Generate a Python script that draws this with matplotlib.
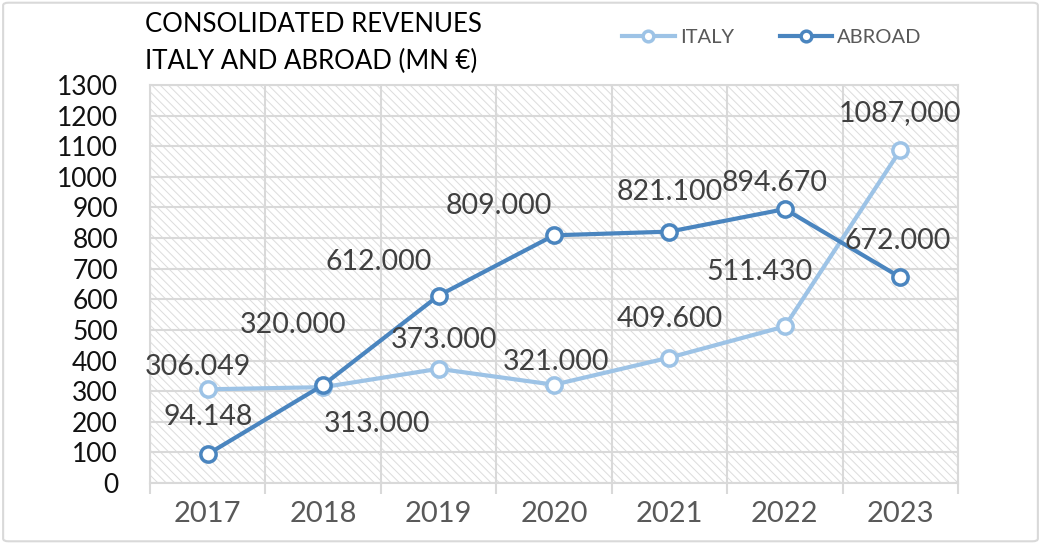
import matplotlib.pyplot as plt
from matplotlib.patches import Rectangle, FancyBboxPatch

plt.rcParams['font.family'] = ['Lato', 'DejaVu Sans']
plt.rcParams['hatch.linewidth'] = 0.7

years = ['2017', '2018', '2019', '2020', '2021', '2022', '2023']
italy = [306.049, 313.000, 373.000, 321.000, 409.600, 511.430, 1087.000]
abroad = [94.148, 320.000, 612.000, 809.000, 821.100, 894.670, 672.000]
italy_labels = ['306.049', '313.000', '373.000', '321.000', '409.600', '511.430', '1087,000']
abroad_labels = ['94.148', '320.000', '612.000', '809.000', '821.100', '894.670', '672.000']

# label offsets in pixels (layout only)
italy_off = [(-10, 22), (54, -37), (5, 29), (2, 23), (0, 39), (-25, 54), (0, 37)]
abroad_off = [(0, 37), (-30, 60), (-60, 34), (-55, 29), (0, 40), (-10, 26), (-3, 36)]

c_italy = '#9DC3E6'
c_abroad = '#4A85BF'
grid_c = '#D9D9D9'

fig = plt.figure(figsize=(10.41, 5.44), dpi=100)
ax = fig.add_axes([150 / 1041, 61 / 544, 808 / 1041, 398 / 544])

# hatched plot area
ax.add_patch(Rectangle((0, 0), 1, 1, transform=ax.transAxes, fill=False,
                       hatch='\\\\\\\\', edgecolor='#DCDCDC', linewidth=0, zorder=0))

x = list(range(len(years)))
ax.plot(x, italy, color=c_italy, lw=3, marker='o', ms=11, mfc='white',
        mec=c_italy, mew=2.5, label='ITALY', zorder=3)
ax.plot(x, abroad, color=c_abroad, lw=3, marker='o', ms=11, mfc='white',
        mec=c_abroad, mew=2.5, label='ABROAD', zorder=4)

for xi, v, s, off in zip(x, italy, italy_labels, italy_off):
    ax.annotate(s, (xi, v), xytext=off, textcoords='offset pixels',
                ha='center', va='center', fontsize=20.5, color='#404040', zorder=5)
for xi, v, s, off in zip(x, abroad, abroad_labels, abroad_off):
    ax.annotate(s, (xi, v), xytext=off, textcoords='offset pixels',
                ha='center', va='center', fontsize=20.5, color='#404040', zorder=5)

ax.set_xlim(-0.5, len(years) - 0.5)
ax.set_ylim(0, 1300)
ax.set_yticks(range(0, 1301, 100))
ax.set_xticks(x)
ax.set_xticklabels(years)
ax.set_xticks([i - 0.5 for i in range(len(years) + 1)], minor=True)
ax.tick_params(axis='x', which='major', length=0, labelsize=21,
               labelcolor='#595959', pad=13)
ax.tick_params(axis='x', which='minor', length=8, width=1.5, color=grid_c)
ax.tick_params(axis='y', length=0, labelsize=19, labelcolor='#111111', pad=23)
ax.grid(axis='y', color=grid_c, lw=1.5, zorder=1)
ax.grid(axis='x', which='minor', color=grid_c, lw=1.5, zorder=1)
ax.set_axisbelow(True)
for sp in ax.spines.values():
    sp.set_color(grid_c)
    sp.set_linewidth(1.5)

fig.text(145 / 1041, 1 - 24 / 544, 'CONSOLIDATED REVENUES',
         ha='left', va='center', fontsize=18.5, color='#000000')
fig.text(145 / 1041, 1 - 61 / 544, 'ITALY AND ABROAD (MN €)',
         ha='left', va='center', fontsize=18.5, color='#000000')

fig.legend(loc='center right', bbox_to_anchor=(940 / 1041, 1 - 37 / 544), ncol=2,
           frameon=False, fontsize=14.5, labelcolor='#595959', handlelength=2.6,
           columnspacing=2.3, handletextpad=0.25, markerscale=0.7)

fig.patches.append(FancyBboxPatch((0.003, 0.005), 0.994, 0.99, boxstyle='round,pad=0,rounding_size=0.005',
                                  transform=fig.transFigure, fill=False, edgecolor=grid_c, lw=1.5))

fig.savefig('out.png', dpi=100)
